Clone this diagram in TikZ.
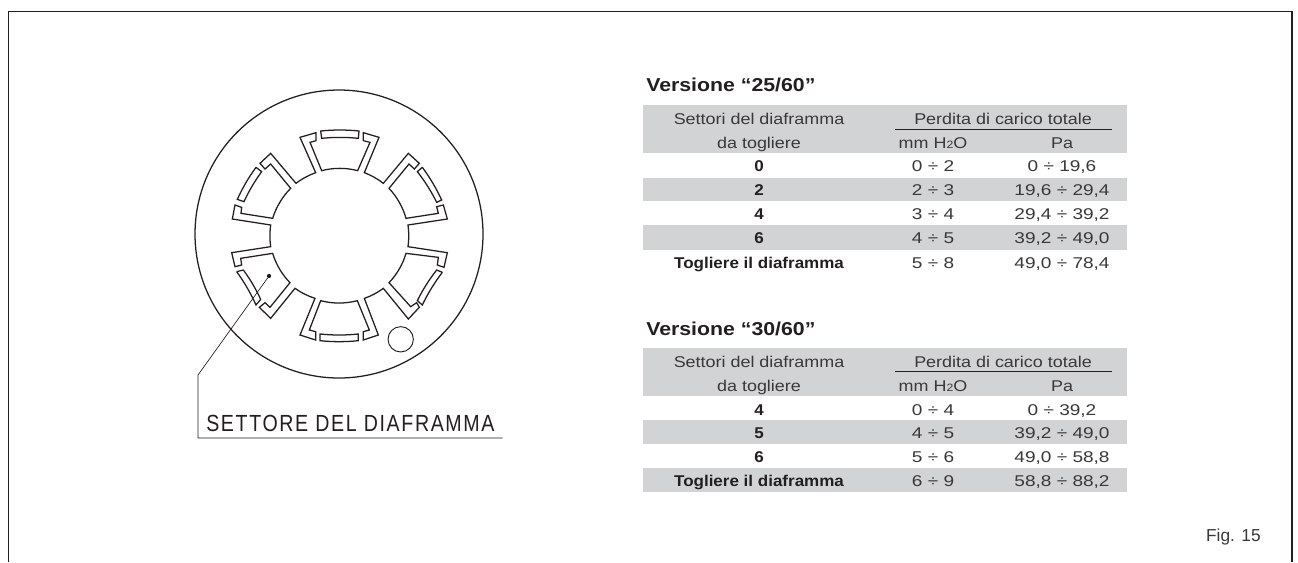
\documentclass[tikz,border=0pt]{standalone}
\usepackage{fontspec}
\setmainfont{Liberation Sans}
\definecolor{rowgray}{HTML}{D1D3D4}
\definecolor{ink}{HTML}{231F20}
\definecolor{soft}{HTML}{3A3839}
\tikzset{
  x=0.75pt,y=-0.75pt,
  cell/.style={inner sep=0,anchor=base,text=soft,font=\fontsize{11.7}{14}\selectfont\addfontfeature{FakeStretch=1.15}},
  numcell/.style={inner sep=0,anchor=base,text=soft,font=\fontsize{11.7}{14}\selectfont\addfontfeature{FakeStretch=1.22}},
  bcell/.style={inner sep=0,anchor=base,text=ink,font=\fontsize{11.7}{14}\bfseries\selectfont\addfontfeature{FakeStretch=1.09}},
  title/.style={inner sep=0,anchor=base west,text=ink,font=\fontsize{14}{16}\bfseries\selectfont\addfontfeature{FakeStretch=1.14}},
  band/.style={fill=rowgray,draw=none},
  outline/.style={draw=ink,line width=0.95pt,line join=miter},
  slot/.style={draw=ink,line width=0.95pt},
  leader/.style={draw=ink,line width=0.5pt},
  arcl/.style={bend left=#1,looseness=0.85}
}
\begin{document}
\begin{tikzpicture}
\useasboundingbox (0,0) rectangle (1298,562);
\fill[white] (0,0) rectangle (1298,562);
\coordinate (fbl) at (8.5,562);
\coordinate (ftl) at (8.5,11.5);
\coordinate (ftr) at (1292,11.5);
\coordinate (fbr) at (1292,562);
\draw[ink,line width=1pt] (fbl) -- (ftl) -- (ftr) -- (fbr);
% disc
\node[circle,draw=ink,line width=0.95pt,minimum size=216pt,inner sep=0] (disc) at (339,234) {};
\node[circle,draw=ink,line width=0.7pt,minimum size=19pt,inner sep=0] (hole) at (400.7,339.3) {};
% outline, in units of the 3x zoom
\begin{scope}[shift={(170,110)},x=0.25pt,y=-0.25pt]
\draw[outline]
 (437,188) -- (390,82) -- (438,68) -- (438,92) -- (420,97) -- (455,182)
 to[arcl=15] (563,182) -- (600,97) -- (580,92) -- (580,68) -- (627,82) -- (583,188)
 to[arcl=9] (640,220) -- (715,130) -- (748,160) -- (733,177) -- (717,162) -- (657,235)
 to[arcl=14] (708,325) -- (805,310) -- (800,290) -- (820,285) -- (832,327) -- (714,345)
 to[arcl=8] (714,410) -- (832,428) -- (822,472) -- (802,465) -- (805,442) -- (708,430)
 to[arcl=14] (657,518) -- (722,590) -- (740,578) -- (748,592) -- (715,627) -- (640,535)
 to[arcl=9] (583,565) -- (625,675) -- (580,690) -- (580,665) -- (598,660) -- (562,572)
 to[arcl=15] (452,572) -- (418,660) -- (437,665) -- (437,690) -- (390,675) -- (435,565)
 to[arcl=9] (375,535) -- (302,625) -- (268,592) -- (285,578) -- (300,592) -- (360,518)
 to[arcl=14] (308,430) -- (212,445) -- (215,465) -- (195,470) -- (185,428) -- (302,410)
 to[arcl=8] (302,345) -- (187,327) -- (195,285) -- (215,292) -- (213,310) -- (308,325)
 to[arcl=14] (362,235) -- (302,162) -- (285,177) -- (270,160) -- (302,130) -- (378,220)
 to[arcl=9] (437,188) -- cycle;
% slots
\draw[slot] (452,63) to[arcl=6] (567,63) -- (565,85) to[arcl=-6] (455,85) -- cycle;
\draw[slot] (450,672) to[arcl=-6] (565,672) -- (565,692) to[arcl=6] (450,692) -- cycle;
\draw[slot] (258,172) -- (275,185) to[arcl=-6] (222,275) -- (202,268) to[arcl=6] (258,172);
\draw[slot] (757,172) -- (742,185) to[arcl=6] (800,277) -- (815,270) to[arcl=-6] (757,172);
\draw[slot] (200,485) -- (220,480) to[arcl=6] (272,568) -- (258,585) to[arcl=-6] (200,485);
\draw[slot] (817,487) -- (800,480) to[arcl=-6] (742,572) -- (757,585) to[arcl=6] (817,487);
\end{scope}
% leader
\node[circle,fill=ink,inner sep=0,minimum size=3.2pt] (dot) at (269,276) {};
\coordinate (knee) at (198,375);
\coordinate (lstart) at (198,438);
\coordinate (lend) at (502.5,438);
\draw[leader] (dot) -- (knee) -- (lstart) -- (lend);
\node[inner sep=0,anchor=base west,text=ink,font=\fontsize{17.5}{20}\selectfont\addfontfeature{FakeStretch=0.84,LetterSpace=7}] (lab) at (206,431) {SETTORE DEL DIAFRAMMA};
% table 1
\node[title] (t1) at (646,91) {Versione “25/60”};
\fill[band] (643,105) rectangle (1127,153);
\fill[band] (643,177.5) rectangle (1127,201);
\fill[band] (643,225) rectangle (1127,249.5);
\coordinate (r1a) at (895,129.5); \coordinate (r1b) at (1112,129.5);
\draw[ink,line width=0.6pt] (r1a) -- (r1b);
\node[cell] (a1) at (759,124) {Settori del diaframma};
\node[cell] (a2) at (1003,124) {Perdita di carico totale};
\node[cell] (a3) at (759,148) {da togliere};
\node[cell] (a4) at (933,148) {mm H{\fontsize{8}{8}\selectfont 2}O};
\node[cell] (a5) at (1062,148) {Pa};
\node[bcell] (b1) at (759,171) {0};
\node[numcell] (b2) at (933,171) {0 ÷ 2};
\node[numcell] (b3) at (1062,171) {0 ÷ 19,6};
\node[bcell] (c1) at (759,195) {2};
\node[numcell] (c2) at (933,195) {2 ÷ 3};
\node[numcell] (c3) at (1062,195) {19,6 ÷ 29,4};
\node[bcell] (d1) at (759,219) {4};
\node[numcell] (d2) at (933,219) {3 ÷ 4};
\node[numcell] (d3) at (1062,219) {29,4 ÷ 39,2};
\node[bcell] (e1) at (759,243) {6};
\node[numcell] (e2) at (933,243) {4 ÷ 5};
\node[numcell] (e3) at (1062,243) {39,2 ÷ 49,0};
\node[bcell] (f1) at (759,268) {Togliere il diaframma};
\node[numcell] (f2) at (933,268) {5 ÷ 8};
\node[numcell] (f3) at (1062,268) {49,0 ÷ 78,4};
% table 2
\node[title] (t2) at (646,335) {Versione “30/60”};
\fill[band] (643,348) rectangle (1127,396);
\fill[band] (643,420) rectangle (1127,444);
\fill[band] (643,468) rectangle (1127,492);
\coordinate (r2a) at (895,371.5); \coordinate (r2b) at (1112,371.5);
\draw[ink,line width=0.6pt] (r2a) -- (r2b);
\node[cell] (g1) at (759,367.5) {Settori del diaframma};
\node[cell] (g2) at (1003,367.5) {Perdita di carico totale};
\node[cell] (g3) at (759,391.5) {da togliere};
\node[cell] (g4) at (933,391.5) {mm H{\fontsize{8}{8}\selectfont 2}O};
\node[cell] (g5) at (1062,391.5) {Pa};
\node[bcell] (h1) at (759,415) {4};
\node[numcell] (h2) at (933,415) {0 ÷ 4};
\node[numcell] (h3) at (1062,415) {0 ÷ 39,2};
\node[bcell] (i1) at (759,438.5) {5};
\node[numcell] (i2) at (933,438.5) {4 ÷ 5};
\node[numcell] (i3) at (1062,438.5) {39,2 ÷ 49,0};
\node[bcell] (j1) at (759,462.5) {6};
\node[numcell] (j2) at (933,462.5) {5 ÷ 6};
\node[numcell] (j3) at (1062,462.5) {49,0 ÷ 58,8};
\node[bcell] (k1) at (759,486.5) {Togliere il diaframma};
\node[numcell] (k2) at (933,486.5) {6 ÷ 9};
\node[numcell] (k3) at (1062,486.5) {58,8 ÷ 88,2};
\node[inner sep=0,anchor=base east,text=soft,font=\fontsize{13}{15}\selectfont] (fig) at (1261,541.5) {Fig. 15};
\end{tikzpicture}
\end{document}
